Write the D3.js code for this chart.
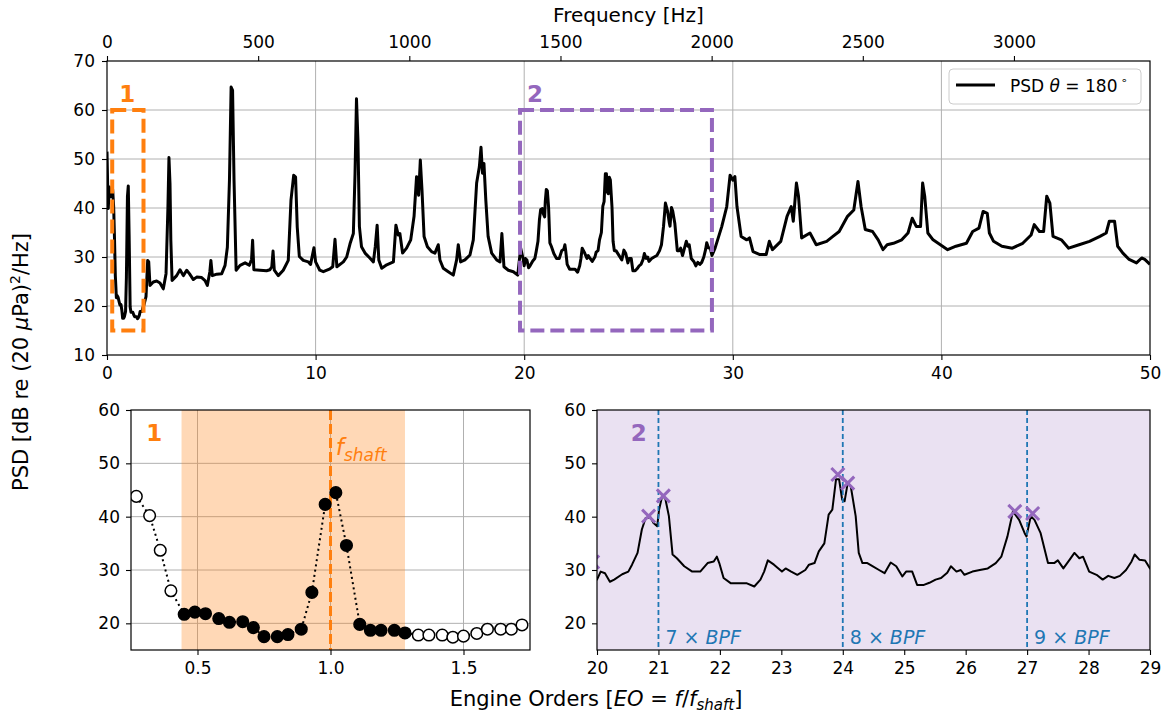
<!DOCTYPE html>
<meta charset="utf-8">
<style>

body {
  margin: 0;
  background: #fff;
  font-family: "DejaVu Sans", sans-serif;
}

.grid line {
  stroke: #b0b0b0;
  stroke-width: 1;
}

</style>
<body>
<script src="https://d3js.org/d3.v7.min.js"></script>
<script>

// shaft frequency (Hz per engine order) for the top frequency axis
var fShaft = 69;
var freqTicks = [0, 500, 1000, 1500, 2000, 2500, 3000];

// spectrum, engine order vs dB
var psdStart = [[0.00,51.5],[0.03,45.0],[0.06,39.9],[0.11,44.3],[0.19,42.3]];

// frequency bins around the shaft order (lower left panel)
var binEO = [0.27,0.32,0.36,0.40,0.45,0.49,0.53,0.58,0.62,0.67,0.71,0.75,0.80,0.84,0.89,0.93,0.98,1.02,1.06,1.11,1.15,1.19,1.24,1.28,1.33,1.37,1.42,1.46,1.50,1.55,1.59,1.64,1.68,1.72];
var binDB = [43.8,40.2,33.7,26.1,21.7,22.1,21.8,20.9,20.2,20.3,19.2,17.5,17.5,17.9,18.9,25.8,42.3,44.5,34.6,19.8,18.7,18.7,18.7,18.2,17.8,17.8,17.8,17.4,17.6,18.1,18.9,18.9,18.9,19.7];
var shadeEO = [0.44, 1.28];

var psdMid = [[1.77,20.2],[1.87,21.9],[1.95,29.3],[2.00,29.0],[2.06,24.2],[2.22,24.9],[2.38,25.1],[2.54,24.7],[2.70,23.5],[2.83,26.6],[2.92,40.0],[2.97,50.3],[3.02,45.0],[3.06,33.4],[3.12,25.2],[3.34,26.2],[3.50,27.4],[3.66,26.2],[3.82,27.3],[3.95,26.6],[4.14,25.4],[4.30,25.9],[4.54,25.8],[4.70,25.2],[4.81,24.2],[4.93,27.0],[4.98,29.3],[5.05,26.2],[5.26,26.5],[5.50,26.6],[5.66,28.3],[5.77,32.0],[5.87,45.6],[5.95,64.7],[6.02,64.0],[6.09,45.6],[6.19,27.3],[6.38,28.3],[6.62,28.8],[6.82,28.3],[6.93,29.5],[6.98,33.4],[7.04,27.4],[7.34,27.3],[7.65,27.2],[7.81,27.4],[7.90,28.0],[7.96,31.2],[8.02,27.3],[8.21,26.2],[8.45,27.3],[8.69,29.3],[8.82,41.6],[8.95,46.7],[9.04,46.3],[9.12,36.1],[9.22,30.1],[9.41,29.3],[9.65,29.0],[9.76,28.5],[9.92,31.9],[10.00,29.0],[10.20,27.3],[10.37,27.0],[10.69,27.6],[10.82,28.0],[10.93,33.6],[11.02,28.0],[11.33,29.0],[11.49,30.0],[11.65,32.7],[11.81,34.8],[11.89,47.0],[11.96,62.3],[12.03,53.8],[12.10,36.2],[12.20,32.1],[12.37,30.8],[12.60,29.8],[12.77,29.0],[12.86,32.1],[12.95,36.5],[13.03,29.4],[13.17,27.7],[13.41,28.4],[13.57,28.7],[13.73,29.0],[13.85,36.5],[13.96,34.5],[14.04,34.8],[14.17,30.8],[14.36,31.8],[14.56,33.5],[14.72,38.3],[14.84,46.4],[14.94,42.6],[15.02,49.8],[15.10,43.7],[15.20,34.2],[15.36,32.1],[15.56,31.1],[15.72,30.8],[15.88,32.5],[15.96,29.4],[16.12,27.7],[16.36,27.0],[16.60,26.3],[16.76,29.4],[16.84,32.5],[16.95,29.0],[17.16,29.4],[17.40,30.4],[17.56,33.5],[17.72,45.1],[17.85,48.4],[17.93,52.4],[18.00,47.1],[18.07,49.1],[18.16,41.6],[18.27,34.2],[18.44,30.8],[18.68,29.4],[18.84,29.0],[18.93,34.8],[19.03,28.0],[19.24,27.3],[19.48,27.0],[19.69,26.3],[19.83,31.8],[19.96,29.4]];

// EO 20 to 29 (lower right panel)
var psdBpf = [[20.00,28.2],[20.06,29.7],[20.13,29.4],[20.21,27.8],[20.28,28.2],[20.41,29.2],[20.51,29.7],[20.57,31.0],[20.66,33.2],[20.73,37.6],[20.79,39.7],[20.87,39.9],[20.92,38.8],[20.98,38.2],[21.01,41.3],[21.06,43.8],[21.11,43.5],[21.17,40.1],[21.23,32.9],[21.30,32.2],[21.42,30.7],[21.55,29.7],[21.68,29.7],[21.80,31.3],[21.90,31.6],[21.95,32.5],[21.99,31.3],[22.06,28.5],[22.18,27.5],[22.31,27.5],[22.44,27.5],[22.56,26.9],[22.66,28.2],[22.72,29.7],[22.78,31.8],[22.88,31.0],[23.01,29.7],[23.07,30.3],[23.16,29.7],[23.26,29.1],[23.39,30.0],[23.45,31.0],[23.54,31.3],[23.61,33.5],[23.70,35.0],[23.77,40.4],[23.83,41.3],[23.89,47.0],[23.94,47.0],[23.99,43.2],[24.03,42.9],[24.08,46.3],[24.13,45.7],[24.21,40.1],[24.26,33.2],[24.32,31.3],[24.40,31.3],[24.49,30.7],[24.59,30.0],[24.68,29.4],[24.78,31.4],[24.87,30.7],[24.97,28.8],[25.03,29.7],[25.13,29.7],[25.21,27.2],[25.32,27.2],[25.41,27.6],[25.51,28.2],[25.60,28.5],[25.70,29.5],[25.76,30.7],[25.85,29.7],[25.92,30.0],[25.98,29.1],[26.11,29.7],[26.23,30.0],[26.36,30.3],[26.49,31.3],[26.58,32.5],[26.68,36.3],[26.77,41.0],[26.87,39.4],[26.96,36.9],[26.99,36.3],[27.06,40.1],[27.12,39.4],[27.22,36.9],[27.34,31.3],[27.44,31.3],[27.50,31.8],[27.59,30.3],[27.69,31.9],[27.77,33.2],[27.85,32.2],[27.91,32.5],[28.01,29.7],[28.13,29.1],[28.23,28.2],[28.32,28.9],[28.42,28.5],[28.51,28.9],[28.61,30.0],[28.70,31.6],[28.75,32.9],[28.83,31.9],[28.92,31.8],[29.00,30.3]];

var psdEnd = [[29.15,31.8],[29.47,36.2],[29.71,40.3],[29.87,46.7],[30.00,45.7],[30.10,46.4],[30.20,40.3],[30.40,34.2],[30.67,33.5],[30.80,33.9],[30.97,31.1],[31.30,30.5],[31.60,30.5],[31.75,33.2],[31.90,31.5],[32.30,33.2],[32.60,38.3],[32.80,40.3],[32.90,37.3],[33.05,45.1],[33.15,42.4],[33.30,33.9],[33.70,34.9],[34.00,32.5],[34.50,33.2],[34.80,34.2],[35.10,35.2],[35.50,38.3],[35.80,39.6],[36.00,45.4],[36.15,40.3],[36.35,35.6],[36.70,35.2],[36.97,33.5],[37.20,31.5],[37.40,32.5],[37.70,32.8],[38.10,33.5],[38.40,34.9],[38.60,37.9],[38.80,36.2],[39.00,36.2],[39.10,45.1],[39.20,42.4],[39.35,34.9],[39.60,33.5],[39.95,32.5],[40.30,31.5],[40.70,32.2],[41.20,32.8],[41.50,35.2],[41.80,35.9],[42.00,39.3],[42.20,38.9],[42.30,34.9],[42.50,33.2],[42.90,32.2],[43.40,31.8],[43.90,32.8],[44.30,34.5],[44.45,36.6],[44.70,35.2],[44.90,35.2],[45.05,42.4],[45.20,41.0],[45.35,34.2],[45.75,33.5],[46.10,31.8],[46.60,32.5],[47.10,33.2],[47.60,34.2],[47.90,34.9],[48.05,37.3],[48.30,37.3],[48.45,32.2],[48.70,30.8],[49.00,29.5],[49.35,28.8],[49.60,29.8],[49.75,29.5],[50.00,28.5]];

// picked peaks in the BPF window
var peakEO = [19.93, 20.84, 21.08, 23.92, 24.08, 26.80, 27.09];
var peakDB = [31.5, 40.1, 43.9, 47.9, 46.3, 41.0, 40.6];

var bpfEO = [21, 24, 27];
var bpfLabel = ["7", "8", "9"];

// zoom windows drawn on the top panel
var box1EO = [0.25, 1.75], box1DB = [15, 60];
var box2EO = [19.8, 29], box2DB = [15, 60];

var orange = "#ff7f0e", purple = "#9467bd", blue = "#1f77b4";

var bins = binEO.map((d, i) => [d, binDB[i]]);
var psd = psdStart.concat(bins, psdMid, psdBpf, psdEnd);

var width = 1170, height = 719;

var svg = d3.select("body").append("svg")
    .attr("width", width)
    .attr("height", height)
    .attr("font-family", "DejaVu Sans");

var pA = {left: 107, right: 1150, top: 61, bottom: 355};
var pB = {left: 131, right: 530, top: 410, bottom: 650};
var pC = {left: 597, right: 1150, top: 410, bottom: 650};

function axisStyle(g, size) {
  g.attr("font-family", "DejaVu Sans").attr("font-size", size);
  g.select(".domain").remove();
  g.selectAll(".tick line").attr("stroke", "#000").attr("stroke-width", 1.1);
  g.selectAll(".tick text").attr("fill", "#000");
}

function clip(id, p) {
  svg.append("clipPath").attr("id", id)
    .append("rect")
      .attr("x", p.left).attr("y", p.top)
      .attr("width", p.right - p.left).attr("height", p.bottom - p.top);
}

function spines(p) {
  svg.append("rect")
      .attr("x", p.left).attr("y", p.top)
      .attr("width", p.right - p.left).attr("height", p.bottom - p.top)
      .attr("fill", "none")
      .attr("stroke", "#000")
      .attr("stroke-width", 1.2);
}

clip("clipA", pA);
clip("clipB", pB);
clip("clipC", pC);

// ---------- top panel ----------
var xA = d3.scaleLinear().domain([0, 50]).range([pA.left, pA.right]);
var yA = d3.scaleLinear().domain([10, 70]).range([pA.bottom, pA.top]);
var fA = d3.scaleLinear().domain([0, 50 * fShaft]).range([pA.left, pA.right]);

svg.append("g").attr("class", "grid")
  .selectAll("line.v").data(d3.range(10, 50, 10)).enter().append("line")
    .attr("x1", d => xA(d)).attr("x2", d => xA(d))
    .attr("y1", pA.top).attr("y2", pA.bottom);
svg.append("g").attr("class", "grid")
  .selectAll("line.h").data(d3.range(20, 70, 10)).enter().append("line")
    .attr("y1", d => yA(d)).attr("y2", d => yA(d))
    .attr("x1", pA.left).attr("x2", pA.right);

var lineA = d3.line().x(d => xA(d[0])).y(d => yA(d[1]));

svg.append("path")
    .datum(psd)
    .attr("clip-path", "url(#clipA)")
    .attr("d", lineA)
    .attr("fill", "none")
    .attr("stroke", "#000")
    .attr("stroke-width", 3)
    .attr("stroke-linejoin", "round");

[[box1EO, box1DB, orange, "1"], [box2EO, box2DB, purple, "2"]].forEach(function(b) {
  svg.append("rect")
      .attr("x", xA(b[0][0]))
      .attr("y", yA(b[1][1]))
      .attr("width", xA(b[0][1]) - xA(b[0][0]))
      .attr("height", yA(b[1][0]) - yA(b[1][1]))
      .attr("fill", "none")
      .attr("stroke", b[2])
      .attr("stroke-width", 4)
      .attr("stroke-dasharray", "14,6");
  svg.append("text")
      .attr("x", xA(b[0][0]) + 7)
      .attr("y", yA(b[1][1]) - 8)
      .attr("fill", b[2])
      .attr("font-size", 23)
      .attr("font-weight", "bold")
      .text(b[3]);
});

spines(pA);

svg.append("g")
    .attr("transform", `translate(0, ${pA.bottom})`)
    .call(d3.axisBottom(xA).tickValues(d3.range(0, 51, 10)).tickSize(5).tickPadding(7))
    .call(g => axisStyle(g, 17));

svg.append("g")
    .attr("transform", `translate(${pA.left}, 0)`)
    .call(d3.axisLeft(yA).tickValues(d3.range(10, 71, 10)).tickSize(5).tickPadding(7))
    .call(g => axisStyle(g, 17));

svg.append("g")
    .attr("transform", `translate(0, ${pA.top})`)
    .call(d3.axisTop(fA).tickValues(freqTicks).tickFormat(d3.format("d")).tickSize(5).tickPadding(8))
    .call(g => axisStyle(g, 17));

svg.append("text")
    .attr("x", (pA.left + pA.right) / 2)
    .attr("y", 22)
    .attr("text-anchor", "middle")
    .attr("font-size", 20)
    .text("Frequency [Hz]");

// legend
var leg = svg.append("g").attr("transform", `translate(${pA.right - 201}, ${pA.top + 8})`);
leg.append("rect")
    .attr("width", 192).attr("height", 35).attr("rx", 4)
    .attr("fill", "#fff").attr("fill-opacity", 0.8)
    .attr("stroke", "#cccccc");
leg.append("line")
    .attr("x1", 7).attr("x2", 46).attr("y1", 16).attr("y2", 16)
    .attr("stroke", "#000").attr("stroke-width", 3);
var lt = leg.append("text").attr("x", 61).attr("y", 23).attr("font-size", 17);
lt.append("tspan").text("PSD ");
lt.append("tspan").attr("font-style", "italic").text("θ");
lt.append("tspan").text(" = 180");
lt.append("tspan").attr("font-size", 11).attr("dy", -8).attr("dx", 3).text("∘");

// ---------- lower left ----------
var xB = d3.scaleLinear().domain([0.25, 1.75]).range([pB.left, pB.right]);
var yB = d3.scaleLinear().domain([15, 60]).range([pB.bottom, pB.top]);

svg.append("g").attr("class", "grid")
  .selectAll("line").data([0.5, 1.0, 1.5]).enter().append("line")
    .attr("x1", d => xB(d)).attr("x2", d => xB(d))
    .attr("y1", pB.top).attr("y2", pB.bottom);
svg.append("g").attr("class", "grid")
  .selectAll("line").data([20, 30, 40, 50]).enter().append("line")
    .attr("y1", d => yB(d)).attr("y2", d => yB(d))
    .attr("x1", pB.left).attr("x2", pB.right);

svg.append("rect")
    .attr("x", xB(shadeEO[0]))
    .attr("y", pB.top)
    .attr("width", xB(shadeEO[1]) - xB(shadeEO[0]))
    .attr("height", pB.bottom - pB.top)
    .attr("fill", orange)
    .attr("fill-opacity", 0.3);

svg.append("path")
    .datum(bins)
    .attr("d", d3.line().x(d => xB(d[0])).y(d => yB(d[1])))
    .attr("fill", "none")
    .attr("stroke", "#000")
    .attr("stroke-width", 2)
    .attr("stroke-dasharray", "2,3.3");

svg.append("line")
    .attr("x1", xB(1)).attr("x2", xB(1))
    .attr("y1", pB.top).attr("y2", pB.bottom)
    .attr("stroke", orange)
    .attr("stroke-width", 3)
    .attr("stroke-dasharray", "10,4");

svg.append("g")
  .selectAll("circle").data(bins).enter().append("circle")
    .attr("clip-path", "url(#clipB)")
    .attr("cx", d => xB(d[0]))
    .attr("cy", d => yB(d[1]))
    .attr("r", 5.8)
    .attr("fill", d => (d[0] >= shadeEO[0] && d[0] <= shadeEO[1]) ? "#000" : "#fff")
    .attr("stroke", "#000")
    .attr("stroke-width", 1.5);

var fs = svg.append("text")
    .attr("x", xB(1.02))
    .attr("y", yB(51.6))
    .attr("fill", orange)
    .attr("font-style", "italic")
    .attr("font-size", 23);
fs.append("tspan").text("f");
fs.append("tspan").attr("font-size", 17).attr("dy", 6).text("shaft");

svg.append("text")
    .attr("x", xB(0.307))
    .attr("y", yB(54.2))
    .attr("fill", orange)
    .attr("font-size", 23)
    .attr("font-weight", "bold")
    .text("1");

spines(pB);

svg.append("g")
    .attr("transform", `translate(0, ${pB.bottom})`)
    .call(d3.axisBottom(xB).tickValues([0.5, 1.0, 1.5]).tickFormat(d3.format(".1f")).tickSize(5).tickPadding(7))
    .call(g => axisStyle(g, 17));

svg.append("g")
    .attr("transform", `translate(${pB.left}, 0)`)
    .call(d3.axisLeft(yB).tickValues([20, 30, 40, 50, 60]).tickSize(5).tickPadding(6))
    .call(g => axisStyle(g, 17));

// ---------- lower right ----------
var xC = d3.scaleLinear().domain([20, 29]).range([pC.left, pC.right]);
var yC = d3.scaleLinear().domain([15, 60]).range([pC.bottom, pC.top]);

svg.append("rect")
    .attr("x", xC(20)).attr("y", pC.top)
    .attr("width", xC(29) - xC(20)).attr("height", pC.bottom - pC.top)
    .attr("fill", purple)
    .attr("fill-opacity", 0.2);

svg.append("path")
    .datum(psd)
    .attr("clip-path", "url(#clipC)")
    .attr("d", d3.line().x(d => xC(d[0])).y(d => yC(d[1])))
    .attr("fill", "none")
    .attr("stroke", "#000")
    .attr("stroke-width", 2)
    .attr("stroke-linejoin", "round");

svg.append("g")
  .selectAll("line").data(bpfEO).enter().append("line")
    .attr("x1", d => xC(d)).attr("x2", d => xC(d))
    .attr("y1", pC.top).attr("y2", pC.bottom)
    .attr("stroke", blue)
    .attr("stroke-width", 1.8)
    .attr("stroke-dasharray", "5,3");

var bl = svg.append("g")
  .selectAll("text").data(bpfEO).enter().append("text")
    .attr("x", d => xC(d) + 7)
    .attr("y", yC(16.2))
    .attr("fill", blue)
    .attr("font-size", 19);
bl.append("tspan").text((d, i) => bpfLabel[i] + " × ");
bl.append("tspan").attr("font-style", "italic").text("BPF");

var xs = 6.5;
svg.append("g")
    .attr("clip-path", "url(#clipC)")
  .selectAll("path").data(peakEO).enter().append("path")
    .attr("d", (d, i) => {
      var cx = xC(d), cy = yC(peakDB[i]);
      return `M${cx - xs},${cy - xs}L${cx + xs},${cy + xs}M${cx - xs},${cy + xs}L${cx + xs},${cy - xs}`;
    })
    .attr("stroke", purple)
    .attr("stroke-width", 3);

svg.append("text")
    .attr("x", xC(20.55))
    .attr("y", yC(54.2))
    .attr("fill", purple)
    .attr("font-size", 23)
    .attr("font-weight", "bold")
    .text("2");

spines(pC);

svg.append("g")
    .attr("transform", `translate(0, ${pC.bottom})`)
    .call(d3.axisBottom(xC).tickValues(d3.range(20, 30)).tickSize(5).tickPadding(7))
    .call(g => axisStyle(g, 17));

svg.append("g")
    .attr("transform", `translate(${pC.left}, 0)`)
    .call(d3.axisLeft(yC).tickValues([20, 30, 40, 50, 60]).tickSize(5).tickPadding(6))
    .call(g => axisStyle(g, 17));

// ---------- shared labels ----------
var yl = svg.append("text")
    .attr("transform", "translate(28, 362) rotate(-90)")
    .attr("text-anchor", "middle")
    .attr("font-size", 21);
yl.append("tspan").text("PSD [dB re (20 ");
yl.append("tspan").attr("font-style", "italic").text("μ");
yl.append("tspan").text("Pa)");
yl.append("tspan").attr("font-size", 14).attr("dy", -8).text("2");
yl.append("tspan").attr("dy", 8).text("/Hz]");

var xl = svg.append("text")
    .attr("x", 596)
    .attr("y", 706)
    .attr("text-anchor", "middle")
    .attr("font-size", 21);
xl.append("tspan").text("Engine Orders [");
xl.append("tspan").attr("font-style", "italic").text("EO");
xl.append("tspan").text(" = ");
xl.append("tspan").attr("font-style", "italic").text("f");
xl.append("tspan").text("/");
xl.append("tspan").attr("font-style", "italic").text("f");
xl.append("tspan").attr("font-style", "italic").attr("font-size", 15).attr("dy", 4).text("shaft");
xl.append("tspan").attr("dy", -4).text("]");

</script>
